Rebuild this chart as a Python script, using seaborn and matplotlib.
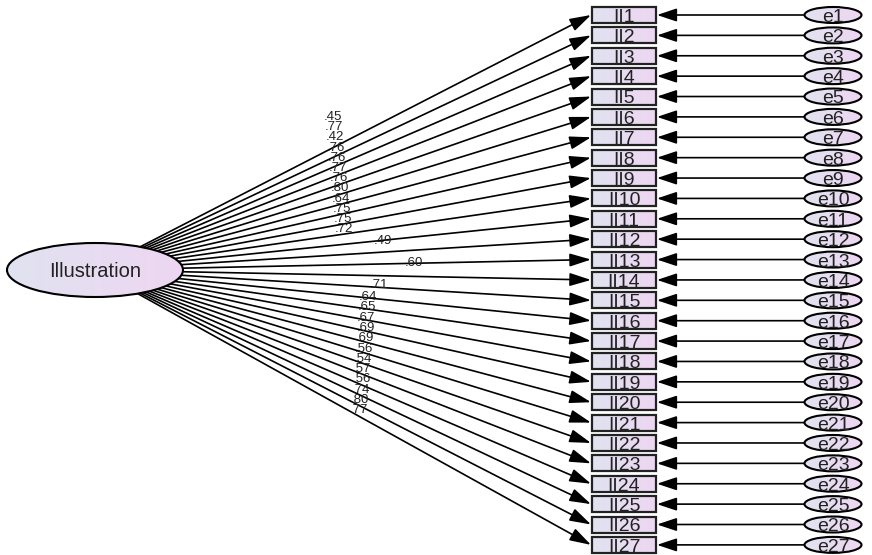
import numpy as np
import matplotlib
matplotlib.use("Agg")
import matplotlib.pyplot as plt
from matplotlib.patches import Ellipse, Rectangle
import seaborn as sns

# ---- data ----
latent = "Illustration"
items = ["II1", "II2", "II3", "II4", "II5", "II6", "II7", "II8", "II9", "II10",
         "II11", "II12", "II13", "II14", "II15", "II16", "II17", "II18", "II19",
         "II20", "II21", "II22", "II23", "II24", "II25", "II26", "II27"]
errors = ["e1", "e2", "e3", "e4", "e5", "e6", "e7", "e8", "e9", "e10",
          "e11", "e12", "e13", "e14", "e15", "e16", "e17", "e18", "e19",
          "e20", "e21", "e22", "e23", "e24", "e25", "e26", "e27"]
loadings = [.45, .77, .42, .76, .76, .77, .76, .80, .64, .75, .75, .72, .49,
            .60, .71, .64, .65, .67, .69, .69, .56, .54, .57, .56, .74, .80, .77]

sns.set_theme(style="white")
plt.rcParams["font.family"] = ["Liberation Sans", "DejaVu Sans"]

W, H = 872, 555
fig = plt.figure(figsize=(W / 100, H / 100), dpi=100)
ax = fig.add_axes([0, 0, 1, 1])
ax.set_xlim(0, W)
ax.set_ylim(H, 0)
ax.axis("off")

c_left = np.array([224, 227, 240]) / 255
c_right = np.array([238, 214, 242]) / 255
grad = np.linspace(0, 1, 128)[None, :, None]
grad_img = c_left[None, None, :] * (1 - grad) + c_right[None, None, :] * grad


def gradient_fill(patch, x0, x1, y0, y1):
    ax.add_patch(patch)
    im = ax.imshow(grad_img, extent=(x0, x1, y1, y0), aspect="auto",
                   zorder=patch.get_zorder() - 0.1, interpolation="bilinear")
    im.set_clip_path(patch)


def node_text(x, y, s, fs):
    # place baseline so that cap height is centred on y
    cap = 0.716 * fs * 100 / 72
    ax.text(x, y + cap / 2, s, ha="center", va="baseline", fontsize=fs,
            color="#222222", zorder=6)


# layout
n = len(items)
y0, dy = 15.0, 20.38
ys = y0 + dy * np.arange(n)
box_x, box_w, box_h = 592, 64, 16
err_cx, err_w, err_h = 833, 57, 16
lat_cx, lat_cy, lat_w, lat_h = 95, 270, 176, 54

# latent ellipse
lat = Ellipse((lat_cx, lat_cy), lat_w, lat_h, facecolor="none",
              edgecolor="black", lw=1.5, zorder=5)
gradient_fill(lat, lat_cx - lat_w / 2, lat_cx + lat_w / 2,
              lat_cy - lat_h / 2, lat_cy + lat_h / 2)
node_text(lat_cx, lat_cy, latent, 14.5)

a, b = lat_w / 2, lat_h / 2
for i, (item, err, lv) in enumerate(zip(items, errors, loadings)):
    yc = ys[i]
    # box
    rect = Rectangle((box_x, yc - box_h / 2), box_w, box_h, facecolor="none",
                     edgecolor="#222222", lw=1.6, zorder=5)
    gradient_fill(rect, box_x, box_x + box_w, yc - box_h / 2, yc + box_h / 2)
    node_text(box_x + box_w / 2, yc, item, 14)
    # error ellipse
    ee = Ellipse((err_cx, yc), err_w, err_h, facecolor="none",
                 edgecolor="black", lw=1.5, zorder=5)
    gradient_fill(ee, err_cx - err_w / 2, err_cx + err_w / 2,
                  yc - err_h / 2, yc + err_h / 2)
    node_text(err_cx, yc, err, 14)
    # error arrow
    ax.annotate("", xy=(box_x + box_w + 1, yc), xytext=(err_cx - err_w / 2, yc),
                arrowprops=dict(arrowstyle="-|>,head_length=1.2,head_width=0.4",
                                mutation_scale=10, lw=1.2, color="black",
                                shrinkA=0, shrinkB=0), zorder=4)
    # loading arrow from latent boundary
    dxv, dyv = box_x - lat_cx, yc - lat_cy
    t = 1.0 / np.sqrt((dxv / a) ** 2 + (dyv / b) ** 2)
    sx, sy = lat_cx + dxv * t, lat_cy + dyv * t
    ax.annotate("", xy=(box_x - 1, yc), xytext=(sx, sy),
                arrowprops=dict(arrowstyle="-|>,head_length=1.3,head_width=0.4",
                                mutation_scale=10, lw=1.2, color="black",
                                shrinkA=0, shrinkB=0), zorder=3)

# loading labels
lab = [f"{v:.2f}".lstrip("0") for v in loadings]
for i in range(n):
    if i < 12:
        lx, ly = 333 + i * 1.0, 117 + i * 10.2
    elif i == 12:
        lx, ly = 383, 241
    elif i == 13:
        lx, ly = 414, 263
    elif i == 14:
        lx, ly = 379, 285
    else:
        k = i - 15
        lx, ly = 368 - k * 0.8, 297 + k * 10.3
    ax.text(lx, ly, lab[i], ha="center", va="center", fontsize=9.5,
            color="#222222", zorder=7)

fig.savefig("out.png", dpi=100, facecolor="white")
